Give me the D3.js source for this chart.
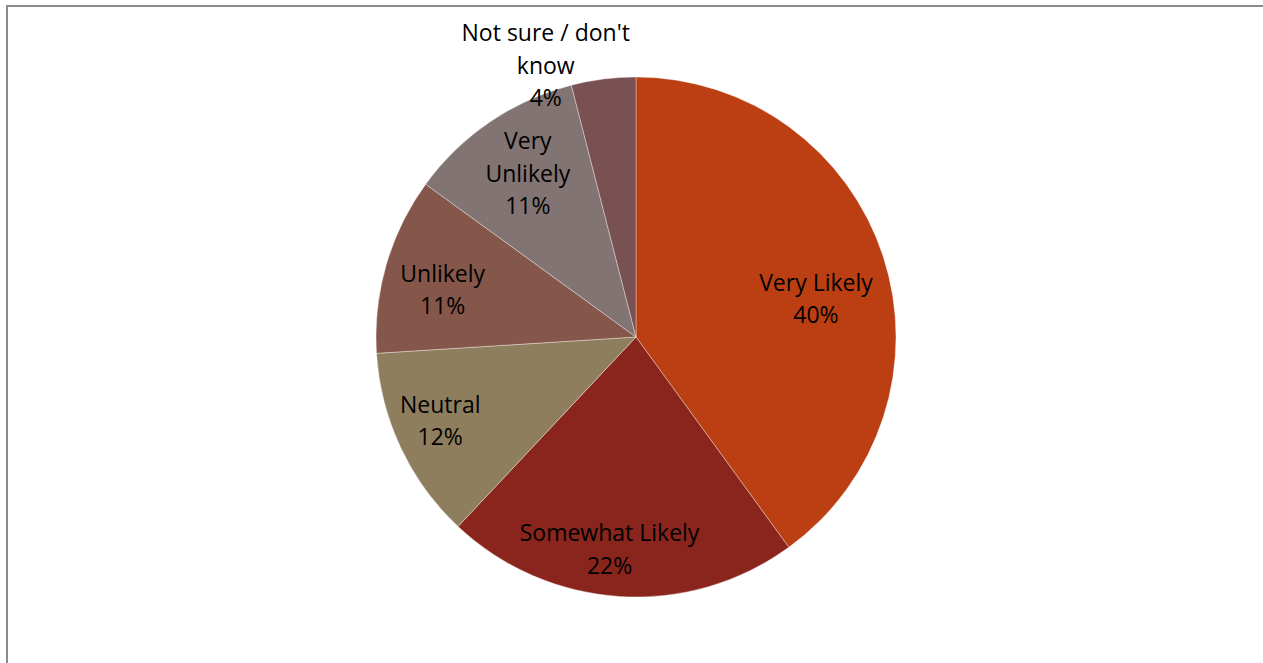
<!DOCTYPE html>
<html>
<head>
<meta charset="utf-8">
<script src="https://cdn.jsdelivr.net/npm/d3@7"></script>
<style>
  html, body { margin: 0; padding: 0; background: #fff; }
  svg { display: block; }
</style>
</head>
<body>
<svg id="chart" width="1263" height="663"></svg>
<script>
// Survey responses (share of respondents, %)
const categories = ["Very Likely", "Somewhat Likely", "Neutral", "Unlikely", "Very Unlikely", "Not sure / don't know"];
const values = [40, 22, 12, 11, 11, 4];
const colors = ["#BC3F14", "#89251C", "#8F7E5E", "#85574A", "#817473", "#795152"];

// Label text lines per slice (category wrapped as it is drawn, then percent)
const labelLines = [
  ["Very Likely"],
  ["Somewhat Likely"],
  ["Neutral"],
  ["Unlikely"],
  ["Very", "Unlikely"],
  ["Not sure / don't", "know"]
];

// Label placement: radius from centre and angular nudge (degrees) per slice
const labelPlacement = [
  { r: 184, nudge: 6 },
  { r: 214, nudge: 3.5 },
  { r: 213, nudge: 2 },
  { r: 199, nudge: -2.5 },
  { r: 196, nudge: 0.7 },
  { r: 286, nudge: -11.2 }
];

const svg = d3.select("#chart");

// Chart frame
svg.append("rect")
  .attr("x", 7).attr("y", 6)
  .attr("width", 1300).attr("height", 700)
  .attr("fill", "none")
  .attr("stroke", "#8c8c8c")
  .attr("stroke-width", 2);

const cx = 636, cy = 337, radius = 260;
const g = svg.append("g").attr("transform", `translate(${cx},${cy})`);

const data = categories.map((c, i) => ({ category: c, value: values[i], color: colors[i], idx: i }));

const pie = d3.pie().value(d => d.value).sort(null);
const arcs = pie(data);
const arc = d3.arc().innerRadius(0).outerRadius(radius);

g.selectAll("path.slice")
  .data(arcs)
  .join("path")
  .attr("class", "slice")
  .attr("d", arc)
  .attr("fill", d => d.data.color)
  .attr("stroke", "rgba(255,255,255,0.45)")
  .attr("stroke-width", 0.8);

const fmt = d3.format(".0%");
const lineH = 32.5;

const labels = g.selectAll("text.label")
  .data(arcs)
  .join("text")
  .attr("class", "label")
  .attr("text-anchor", "middle")
  .attr("font-family", "'Open Sans', sans-serif")
  .attr("font-size", 23)
  .attr("fill", "#000")
  .attr("transform", d => {
    const p = labelPlacement[d.data.idx];
    const mid = (d.startAngle + d.endAngle) / 2 + p.nudge * Math.PI / 180;
    const x = p.r * Math.sin(mid);
    const y = -p.r * Math.cos(mid);
    return `translate(${x},${y})`;
  });

labels.each(function(d) {
  const lines = labelLines[d.data.idx].concat([fmt(d.data.value / d3.sum(values))]);
  const n = lines.length;
  const t = d3.select(this);
  lines.forEach((ln, k) => {
    t.append("tspan")
      .attr("x", 0)
      .attr("y", (k - (n - 1) / 2) * lineH)
      .attr("dy", "0.35em")
      .text(ln);
  });
});
</script>
</body>
</html>
